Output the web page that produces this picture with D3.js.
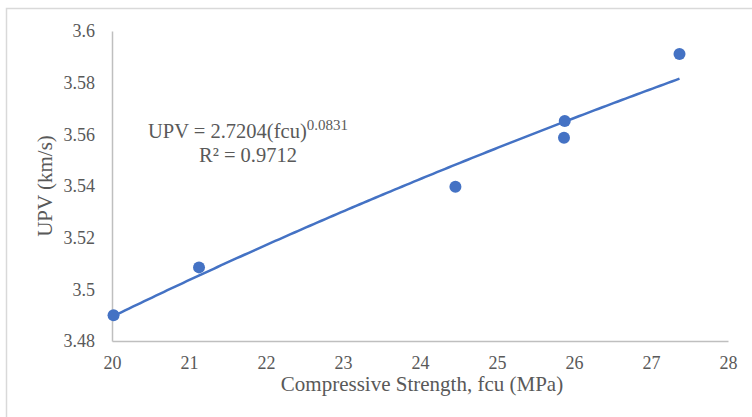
<!DOCTYPE html>
<html>
<head>
<meta charset="utf-8">
<script src="https://cdn.jsdelivr.net/npm/d3@7"></script>
<style>
  body { margin: 0; background: #fff; }
</style>
</head>
<body>
<script>

// Measured points: compressive strength (MPa) vs pulse velocity (km/s)
var strength = [20.02, 21.13, 24.46, 25.88, 25.87, 27.37];
var upv      = [3.490, 3.5085, 3.5397, 3.5652, 3.5587, 3.5911];

// Axis ticks
var xTicks = [20, 21, 22, 23, 24, 25, 26, 27, 28];
var yTicks = [3.48, 3.5, 3.52, 3.54, 3.56, 3.58, 3.6];

// Power trendline shown on the chart: UPV = a * fcu^b
var trendA  = 2.7204;
var trendB  = 0.0831;
var trendR2 = 0.9712;

var width  = 752;
var height = 417;
var margin = {left: 112, right: 24, top: 31, bottom: 76};
var blue   = '#4472C4';
var serif  = '"Liberation Serif", "Times New Roman", Tinos, serif';
var grey   = '#595959';

var svg = d3.select('body').append('svg')
  .attr('width', width)
  .attr('height', height)
  .style('font-family', serif);

// chart frame (runs off the right and bottom edge in the original)
svg.append('rect')
  .attr('x', 6.5).attr('y', 8.5)
  .attr('width', 800).attr('height', 500)
  .attr('fill', 'none')
  .attr('stroke', '#d9d9d9')
  .attr('stroke-width', 1.5);

var x = d3.scaleLinear()
  .domain([xTicks[0], xTicks[xTicks.length - 1]])
  .range([margin.left, width - margin.right]);

var y = d3.scaleLinear()
  .domain([yTicks[0], yTicks[yTicks.length - 1]])
  .range([height - margin.bottom, margin.top]);

// x axis
var xAxis = svg.append('g')
  .attr('transform', 'translate(0,' + (height - margin.bottom) + ')')
  .call(d3.axisBottom(x).tickValues(xTicks).tickSize(0).tickPadding(15).tickFormat(d3.format('d')));

// y axis
var yAxis = svg.append('g')
  .attr('transform', 'translate(' + margin.left + ',0)')
  .call(d3.axisLeft(y).tickValues(yTicks).tickSize(0).tickPadding(17).tickFormat(d3.format('~g')));

[xAxis, yAxis].forEach(function(g){
  g.attr('font-family', null).attr('font-size', null);
  g.select('.domain').attr('stroke', '#bfbfbf').attr('stroke-width', 1.5);
  g.selectAll('text')
    .style('font-family', serif)
    .style('font-size', '18px')
    .attr('fill', grey);
});

// axis titles
svg.append('text')
  .attr('x', (margin.left + width - margin.right) / 2 + 2)
  .attr('y', 391)
  .attr('text-anchor', 'middle')
  .style('font-family', serif)
  .style('font-size', '21px')
  .attr('fill', grey)
  .text('Compressive Strength, fcu (MPa)');

svg.append('text')
  .attr('transform', 'translate(52,' + ((margin.top + height - margin.bottom) / 2) + ') rotate(-90)')
  .attr('text-anchor', 'middle')
  .style('font-family', serif)
  .style('font-size', '21px')
  .attr('fill', grey)
  .text('UPV (km/s)');

// trendline from the first to the last measured strength
var ext = d3.extent(strength);
var trendX = d3.range(ext[0], ext[1], 0.05).concat([ext[1]]);
var line = d3.line()
  .x(function(d){ return x(d); })
  .y(function(d){ return y(trendA * Math.pow(d, trendB)); });

svg.append('path')
  .datum(trendX)
  .attr('d', line)
  .attr('fill', 'none')
  .attr('stroke', blue)
  .attr('stroke-width', 2.5);

// points
svg.selectAll('circle.pt')
  .data(strength)
  .enter()
  .append('circle')
  .attr('class', 'pt')
  .attr('cx', function(d){ return x(d); })
  .attr('cy', function(d, i){ return y(upv[i]); })
  .attr('r', 6)
  .attr('fill', blue);

// equation label
var eq = svg.append('text')
  .attr('x', 248)
  .attr('y', 138)
  .attr('text-anchor', 'middle')
  .style('font-family', serif)
  .style('font-size', '20.5px')
  .attr('fill', grey);
eq.append('tspan').text('UPV = ' + trendA.toFixed(4) + '(fcu)');
eq.append('tspan').style('font-size', '15px').attr('dy', -8).text(trendB.toFixed(4));

svg.append('text')
  .attr('x', 248)
  .attr('y', 162)
  .attr('text-anchor', 'middle')
  .style('font-family', serif)
  .style('font-size', '20.5px')
  .attr('fill', grey)
  .text('R\u00b2 = ' + trendR2.toFixed(4));

</script>
</body>
</html>
